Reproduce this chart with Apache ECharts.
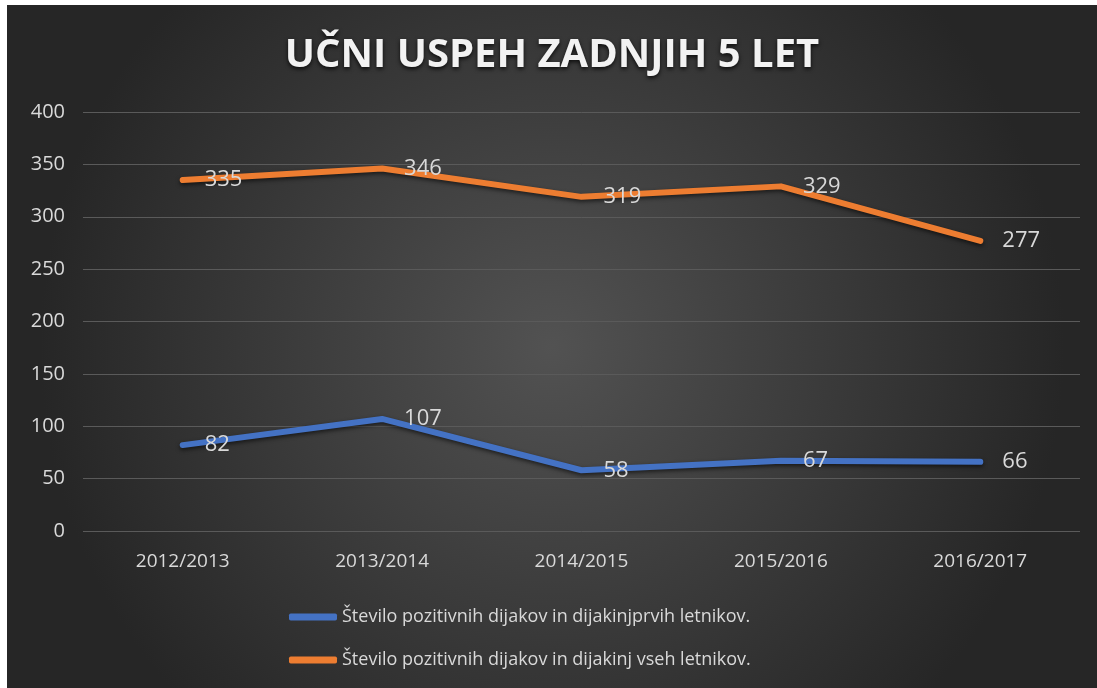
<!DOCTYPE html>
<html>
<head>
<meta charset="utf-8">
<script src="https://cdn.jsdelivr.net/npm/echarts@6/dist/echarts.min.js"></script>
<style>
  html, body { margin: 0; padding: 0; background: #fff; }
  #chart { position: absolute; left: 7px; top: 5px; width: 1090px; height: 683px; }
</style>
</head>
<body>
<div id="chart"></div>
<script>
const years = ['2012/2013', '2013/2014', '2014/2015', '2015/2016', '2016/2017'];
const firstYear = [82, 107, 58, 67, 66];
const allYears = [335, 346, 319, 329, 277];
const names = [
  'Število pozitivnih dijakov in dijakinjprvih letnikov.',
  'Število pozitivnih dijakov in dijakinj vseh letnikov.'
];

const font = '"Open Sans", Lato, sans-serif';
const chart = echarts.init(document.getElementById('chart'));

function lineSeries(name, data, color) {
  return {
    name: name,
    type: 'line',
    data: data,
    symbol: 'circle',
    symbolSize: 0,
    showSymbol: true,
    lineStyle: {
      color: color,
      width: 6,
      cap: 'round',
      join: 'round',
      shadowColor: 'rgba(0,0,0,0.6)',
      shadowBlur: 4,
      shadowOffsetY: 2
    },
    itemStyle: {color: color},
    label: {
      show: true,
      position: 'right',
      distance: 22,
      color: '#d9d9d9',
      fontSize: 22,
      fontFamily: font
    }
  };
}

chart.setOption({
  backgroundColor: {
    type: 'radial', x: 0.5, y: 0.5, r: 0.75,
    colorStops: [
      {offset: 0, color: '#525252'},
      {offset: 1, color: '#262626'}
    ]
  },
  title: {
    text: 'UČNI USPEH ZADNJIH 5 LET',
    left: 'center',
    top: 26,
    textStyle: {
      color: '#f2f2f2',
      fontSize: 40,
      fontWeight: 'bold',
      fontFamily: font,
      textShadowColor: 'rgba(0,0,0,0.8)',
      textShadowBlur: 4,
      textShadowOffsetY: 2
    }
  },
  legend: {
    orient: 'vertical',
    left: 277,
    top: 598,
    itemGap: 25,
    itemWidth: 48,
    itemHeight: 7,
    icon: 'roundRect',
    textStyle: {color: '#d9d9d9', fontSize: 18, fontFamily: font},
    data: names
  },
  grid: {left: 76, right: 17, top: 107, bottom: 157, containLabel: false},
  xAxis: {
    type: 'category',
    data: years,
    axisLine: {show: false},
    axisTick: {show: false},
    axisLabel: {color: '#d9d9d9', fontSize: 19, fontFamily: font, margin: 21}
  },
  yAxis: {
    type: 'value',
    min: 0,
    max: 400,
    interval: 50,
    axisLine: {show: false},
    axisTick: {show: false},
    axisLabel: {color: '#d9d9d9', fontSize: 20, fontFamily: font, margin: 18},
    splitLine: {lineStyle: {color: '#5a5a5a', width: 1}}
  },
  series: [
    lineSeries(names[0], firstYear, '#4472c4'),
    lineSeries(names[1], allYears, '#ed7d31')
  ]
});
</script>
</body>
</html>
